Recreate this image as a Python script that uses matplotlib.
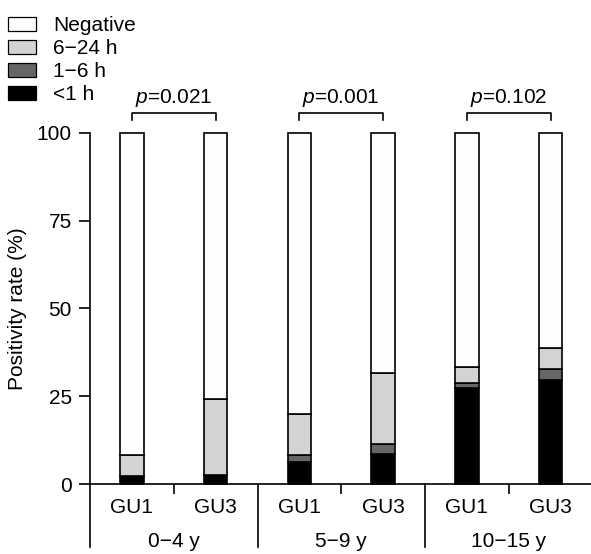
import matplotlib
matplotlib.use('Agg')
import matplotlib.pyplot as plt
from matplotlib.patches import Patch

plt.rcParams['font.family'] = ['Liberation Sans', 'DejaVu Sans']
plt.rcParams['mathtext.fontset'] = 'custom'
plt.rcParams['mathtext.it'] = 'Liberation Sans:italic'
plt.rcParams['mathtext.rm'] = 'Liberation Sans'

# ── data ─────────────────────────────────────────────────────────────────────
bars     = ['GU1', 'GU3', 'GU1', 'GU3', 'GU1', 'GU3']
groups   = ['0\u22124 y', '5\u22129 y', '10\u221215 y']
p_values = ['0.021', '0.001', '0.102']

lt_1h  = [2.3, 2.5, 6.2, 8.4, 27.2, 29.7]
h_1_6  = [0.0, 0.0, 2.0, 3.0, 1.5, 2.9]
h_6_24 = [5.9, 21.6, 11.6, 20.3, 4.6, 6.2]

labels = ['Negative', '6\u221224 h', '1\u22126 h', '<1 h']
colors = ['#fdfdfd', '#d3d3d3', '#666666', '#000000']

FS = 15

# ── figure ───────────────────────────────────────────────────────────────────
W, H = 591, 554
fig = plt.figure(figsize=(W / 100, H / 100), dpi=100)
ax = fig.add_axes([90 / W, 1 - 484 / H, 502.5 / W, 351.3 / H])

x = list(range(len(bars)))
negative = [100 - a - b - c for a, b, c in zip(lt_1h, h_1_6, h_6_24)]
bottom = [0.0] * len(bars)
for vals, col in [(lt_1h, colors[3]), (h_1_6, colors[2]),
                  (h_6_24, colors[1]), (negative, colors[0])]:
    ax.bar(x, vals, width=0.28, bottom=bottom, color=col,
           edgecolor='black', linewidth=1.2, clip_on=False, zorder=3)
    bottom = [b + v for b, v in zip(bottom, vals)]

ax.set_xlim(-0.5, 5.5)
ax.set_ylim(0, 100)
ax.set_yticks([0, 25, 50, 75, 100])
ax.tick_params(axis='y', length=8, width=1.2, labelsize=FS, pad=5)
ax.set_xticks([0.5, 2.5, 4.5])
ax.set_xticklabels([])
ax.tick_params(axis='x', length=7, width=1.2)
ax.set_ylabel('Positivity rate (%)', fontsize=FS, labelpad=7)
for s in ['top', 'right']:
    ax.spines[s].set_visible(False)
for s in ['left', 'bottom']:
    ax.spines[s].set_linewidth(1.2)

# group dividers below axis + labels
trans = ax.get_xaxis_transform()
for xd in [-0.5, 1.5, 3.5]:
    ax.plot([xd, xd], [0, -0.179], color='black', lw=1.2,
            transform=trans, clip_on=False)
for i, name in enumerate(bars):
    ax.text(i, -0.068, name, transform=trans, ha='center', va='center',
            fontsize=FS)
for g, name in enumerate(groups):
    ax.text(2 * g + 0.5, -0.165, name, transform=trans, ha='center',
            va='center', fontsize=FS)

# p-value brackets
for g, p in enumerate(p_values):
    x0, x1 = 2 * g, 2 * g + 1
    ax.plot([x0, x0, x1, x1], [103.6, 105.6, 105.6, 103.6], color='black',
            lw=1.2, clip_on=False)
    ax.text(2 * g + 0.5, 108.5, r'$\it{p}$=' + p, ha='center',
            va='baseline', fontsize=FS)

handles = [Patch(facecolor=c, edgecolor='black', linewidth=0.9) for c in colors]
fig.legend(handles, labels, loc='upper left', bbox_to_anchor=(8 / W, 1 - 16 / H),
           frameon=False, fontsize=FS, handlelength=1.35, handleheight=0.67,
           handletextpad=0.8, labelspacing=0.2, borderpad=0, borderaxespad=0)

fig.savefig('out.png', dpi=100)
